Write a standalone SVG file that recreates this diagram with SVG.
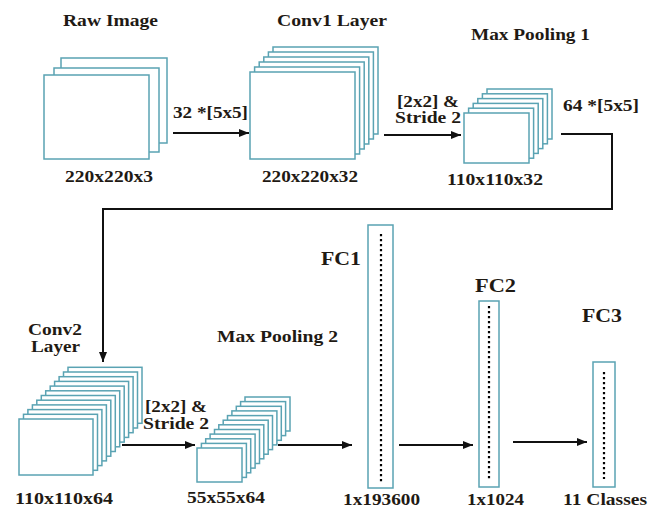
<svg xmlns="http://www.w3.org/2000/svg" width="660" height="509" viewBox="0 0 660 509">
<defs>
<style>
.l{fill:#fff;stroke:#5aa3b3;stroke-width:1.5}
.t{font-family:"Liberation Serif","Times New Roman",serif;font-weight:bold;font-size:16px;fill:#1f1a14}
.f{font-size:18px}
.c{fill:none;stroke:#111;stroke-width:2}
.d{fill:none;stroke:#000;stroke-width:2.2;stroke-dasharray:2.2 2.8}
</style>
<marker id="ah" markerWidth="10" markerHeight="8" refX="10" refY="4" orient="auto" markerUnits="userSpaceOnUse">
<path d="M0,0 L10,4 L0,8 Z" fill="#111"/>
</marker>
</defs>
<rect width="660" height="509" fill="#fff"/>

<g id="raw">
<rect class="l" x="61" y="58" width="106" height="85"/>
<rect class="l" x="54" y="68" width="105" height="84"/>
<rect class="l" x="44" y="75" width="105" height="84"/>
<text class="t" x="63" y="26" textLength="95" lengthAdjust="spacingAndGlyphs">Raw Image</text>
<text class="t" x="65" y="182" textLength="88" lengthAdjust="spacingAndGlyphs">220x220x3</text>
</g>

<g id="conv1">
<rect class="l" x="273" y="47" width="105" height="87"/>
<rect class="l" x="268.4" y="52" width="105" height="87"/>
<rect class="l" x="263.8" y="57" width="105" height="87"/>
<rect class="l" x="259.2" y="62" width="105" height="87"/>
<rect class="l" x="254.6" y="67" width="105" height="87"/>
<rect class="l" x="250" y="72" width="105" height="87"/>
<text class="t" x="277" y="26" textLength="110" lengthAdjust="spacingAndGlyphs">Conv1 Layer</text>
<text class="t" x="262" y="182" textLength="96" lengthAdjust="spacingAndGlyphs">220x220x32</text>
</g>

<g id="pool1">
<rect class="l" x="487" y="89" width="65" height="50"/>
<rect class="l" x="482.4" y="93.8" width="65" height="50"/>
<rect class="l" x="477.8" y="98.6" width="65" height="50"/>
<rect class="l" x="473.2" y="103.4" width="65" height="50"/>
<rect class="l" x="468.6" y="108.2" width="65" height="50"/>
<rect class="l" x="464" y="113" width="65" height="50"/>
<text class="t" x="471" y="40" textLength="119" lengthAdjust="spacingAndGlyphs">Max Pooling 1</text>
<text class="t" x="447" y="185" textLength="96" lengthAdjust="spacingAndGlyphs">110x110x32</text>
</g>

<g id="conv2">
<rect class="l" x="68" y="367.3" width="74" height="56"/>
<rect class="l" x="63.5" y="372" width="74" height="56"/>
<rect class="l" x="59.1" y="376.7" width="74" height="56"/>
<rect class="l" x="54.6" y="381.4" width="74" height="56"/>
<rect class="l" x="50.2" y="386.1" width="74" height="56"/>
<rect class="l" x="45.7" y="390.8" width="74" height="56"/>
<rect class="l" x="41.3" y="395.5" width="74" height="56"/>
<rect class="l" x="36.8" y="400.2" width="74" height="56"/>
<rect class="l" x="32.4" y="404.9" width="74" height="56"/>
<rect class="l" x="27.9" y="409.6" width="74" height="56"/>
<rect class="l" x="23.5" y="414.3" width="74" height="56"/>
<rect class="l" x="19" y="419" width="74" height="56"/>
<text class="t" x="28" y="335" textLength="54" lengthAdjust="spacingAndGlyphs">Conv2</text>
<text class="t" x="31" y="352" textLength="49" lengthAdjust="spacingAndGlyphs">Layer</text>
<text class="t" x="15" y="504" textLength="98" lengthAdjust="spacingAndGlyphs">110x110x64</text>
</g>

<g id="pool2">
<rect class="l" x="245" y="397" width="45" height="34"/>
<rect class="l" x="240.6" y="401.6" width="45" height="34"/>
<rect class="l" x="236.3" y="406.3" width="45" height="34"/>
<rect class="l" x="231.9" y="410.9" width="45" height="34"/>
<rect class="l" x="227.5" y="415.6" width="45" height="34"/>
<rect class="l" x="223.2" y="420.2" width="45" height="34"/>
<rect class="l" x="218.8" y="424.8" width="45" height="34"/>
<rect class="l" x="214.5" y="429.5" width="45" height="34"/>
<rect class="l" x="210.1" y="434.1" width="45" height="34"/>
<rect class="l" x="205.7" y="438.8" width="45" height="34"/>
<rect class="l" x="201.4" y="443.4" width="45" height="34"/>
<rect class="l" x="197" y="448" width="45" height="34"/>
<text class="t" x="217" y="342" textLength="121" lengthAdjust="spacingAndGlyphs">Max Pooling 2</text>
<text class="t" x="187" y="503" textLength="78" lengthAdjust="spacingAndGlyphs">55x55x64</text>
</g>

<g id="fc1">
<rect class="l" x="368" y="225" width="25" height="263"/>
<line class="d" x1="381" y1="234" x2="381" y2="484"/>
<text class="t f" x="321" y="265" textLength="40" lengthAdjust="spacingAndGlyphs">FC1</text>
<text class="t" x="343" y="505" textLength="77" lengthAdjust="spacingAndGlyphs">1x193600</text>
</g>

<g id="fc2">
<rect class="l" x="479" y="301" width="20" height="186"/>
<line class="d" x1="489" y1="306" x2="489" y2="481"/>
<text class="t f" x="475" y="292" textLength="41" lengthAdjust="spacingAndGlyphs">FC2</text>
<text class="t" x="467" y="505" textLength="57" lengthAdjust="spacingAndGlyphs">1x1024</text>
</g>

<g id="fc3">
<rect class="l" x="593" y="362" width="22" height="125"/>
<line class="d" x1="604" y1="372" x2="604" y2="479"/>
<text class="t f" x="582" y="322" textLength="40" lengthAdjust="spacingAndGlyphs">FC3</text>
<text class="t" x="563" y="505" textLength="84" lengthAdjust="spacingAndGlyphs">11 Classes</text>
</g>

<g id="connectors">
<path class="c" d="M173,133 H249" marker-end="url(#ah)"/>
<path class="c" d="M384,135 H461" marker-end="url(#ah)"/>
<path class="c" d="M561,134 H612 V209 H103 V362" marker-end="url(#ah)"/>
<path class="c" d="M122,445 H195" marker-end="url(#ah)"/>
<path class="c" d="M278,445 H352" marker-end="url(#ah)"/>
<path class="c" d="M399,445 H473" marker-end="url(#ah)"/>
<path class="c" d="M513,442 H587" marker-end="url(#ah)"/>
<text class="t" x="173" y="118" textLength="75" lengthAdjust="spacingAndGlyphs">32 *[5x5]</text>
<text class="t" x="397" y="107" textLength="62" lengthAdjust="spacingAndGlyphs">[2x2] &amp;</text>
<text class="t" x="395" y="123" textLength="66" lengthAdjust="spacingAndGlyphs">Stride 2</text>
<text class="t" x="563" y="111" textLength="76" lengthAdjust="spacingAndGlyphs">64 *[5x5]</text>
<text class="t" x="145" y="412" textLength="62" lengthAdjust="spacingAndGlyphs">[2x2] &amp;</text>
<text class="t" x="143" y="429" textLength="66" lengthAdjust="spacingAndGlyphs">Stride 2</text>
</g>
</svg>
